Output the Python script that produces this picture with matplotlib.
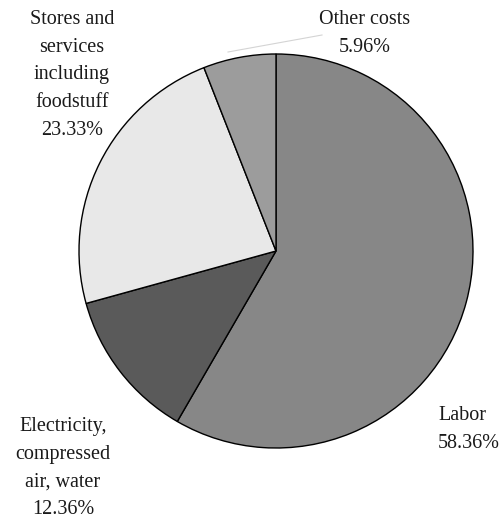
import matplotlib
matplotlib.use("Agg")
import matplotlib.pyplot as plt

# Cost structure shares (%), clockwise from 12 o'clock
categories = ["Labor", "Electricity,\ncompressed\nair, water",
              "Stores and\nservices\nincluding\nfoodstuff", "Other costs"]
shares = [58.36, 12.36, 23.33, 5.96]
colors = ["#878787", "#5a5a5a", "#e8e8e8", "#9c9c9c"]

W, H = 502, 521
fig = plt.figure(figsize=(W / 100, H / 100), dpi=100)
ax = fig.add_axes([0, 0, 1, 1])

ax.pie(shares, colors=colors, startangle=90, counterclock=False,
       center=(276, H - 251), radius=197,
       wedgeprops=dict(edgecolor="black", linewidth=1.0))
ax.set_xlim(0, W)
ax.set_ylim(0, H)
ax.set_aspect("equal")
ax.axis("off")

font = dict(family="Liberation Serif", fontsize=14.5, color="#1a1a1a",
            linespacing=1.62)

def label(i):
    return f"{categories[i]}\n{shares[i]:.2f}%"

ax.text(438, H - 406, label(0), ha="left", va="top", **font)
ax.text(63, H - 417, label(1), ha="center", va="top", multialignment="center", **font)
ax.text(72, H - 10, label(2), ha="center", va="top", multialignment="center", **font)
ax.text(365, H - 10, label(3), ha="center", va="top", multialignment="center", **font)

# faint leader line to the small slice label
ax.plot([228, 322], [H - 52, H - 35], color="#d4d4d4", linewidth=0.8)

fig.savefig("out.png", dpi=100, facecolor="white")
